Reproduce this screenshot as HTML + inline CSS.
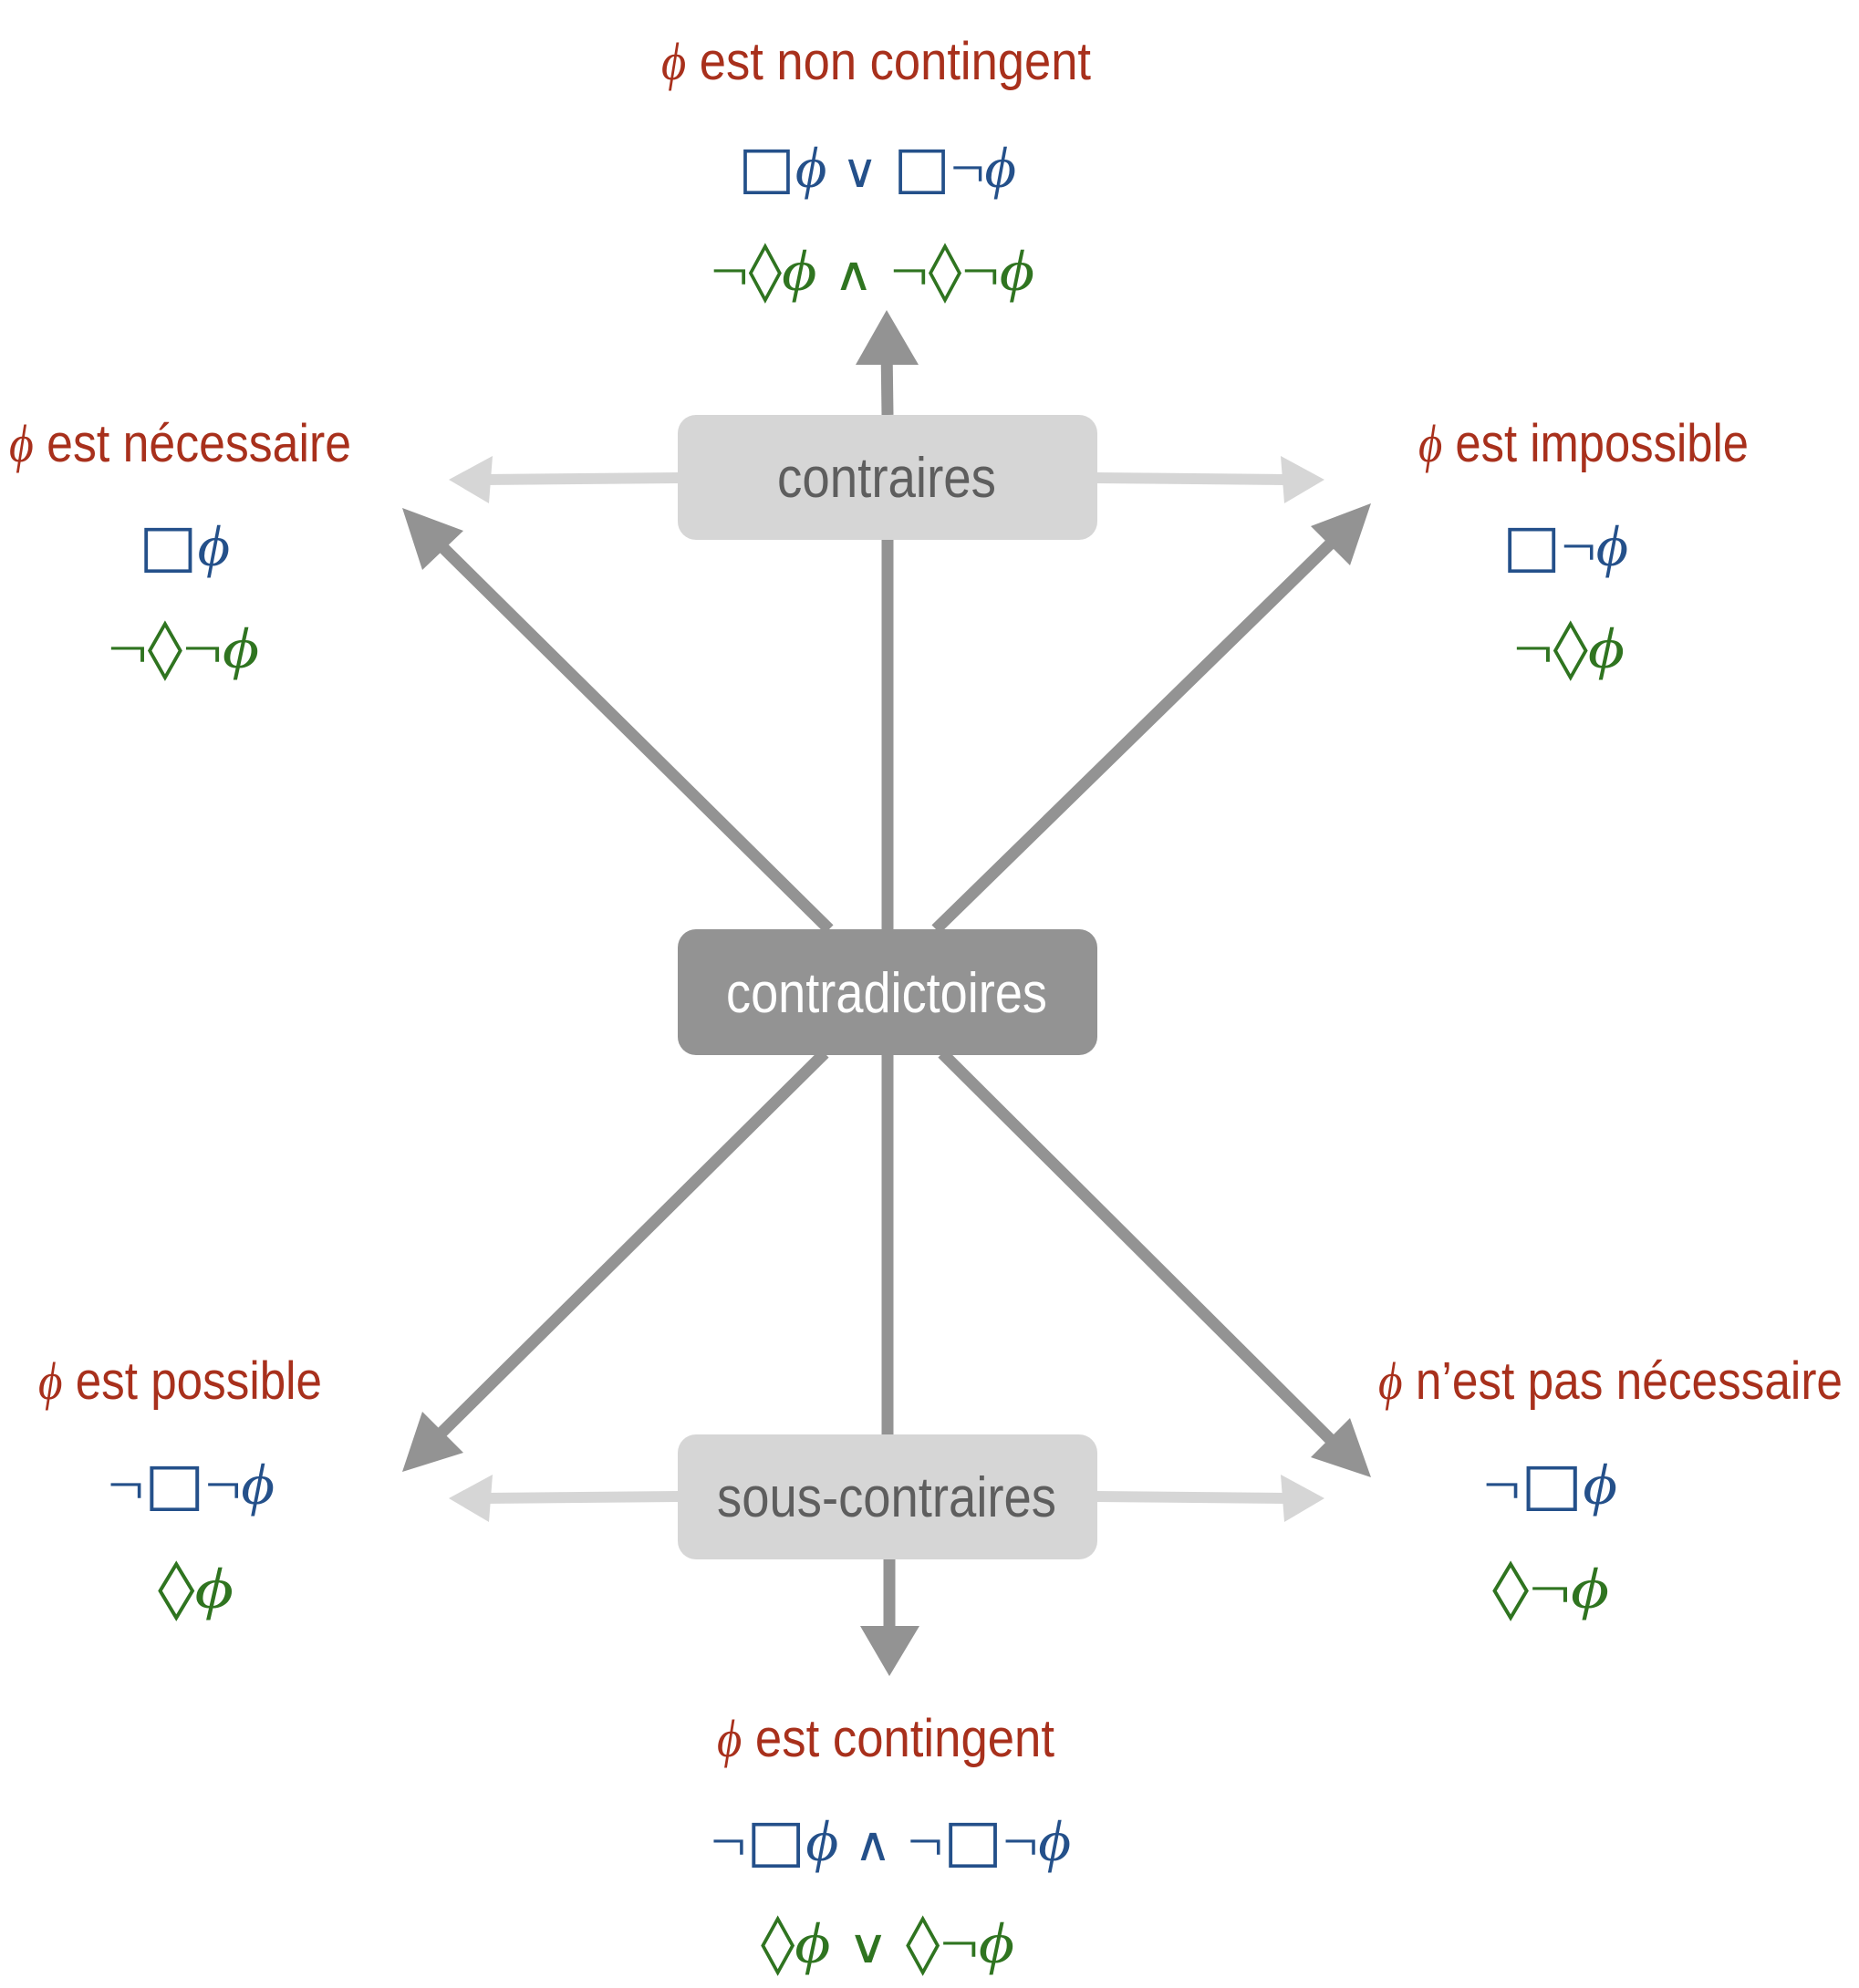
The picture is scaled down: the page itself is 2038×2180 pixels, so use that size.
<!DOCTYPE html>
<html><head><meta charset="utf-8"><style>
html,body{margin:0;padding:0;background:#fff}
svg{display:block}
.lab{font-family:"Liberation Sans Narrow","Liberation Sans",sans-serif;font-size:58px;fill:#a8301c}
.bl{fill:#24508a}
.gr{fill:#2f7420}
.f{font-family:"Liberation Serif","DejaVu Serif",serif;font-size:64px}
.s{font-family:"DejaVu Sans",sans-serif}
.o{font-family:"DejaVu Sans",sans-serif;font-weight:normal;font-size:52px}
.i{font-style:italic}
.bx{font-family:"Liberation Sans Narrow","Liberation Sans",sans-serif;font-size:62px}
</style></head><body>
<svg width="2038" height="2180" viewBox="0 0 2038 2180" xmlns="http://www.w3.org/2000/svg">
<g stroke="#d6d6d6" stroke-width="12" fill="#d6d6d6">
<line x1="745" y1="524" x2="530" y2="526"/>
<line x1="1200" y1="524" x2="1410" y2="526"/>
<line x1="745" y1="1641" x2="530" y2="1643"/>
<line x1="1200" y1="1641" x2="1410" y2="1643"/>
</g>
<g fill="#d6d6d6">
<polygon points="492,526 540,500 536,552"/>
<polygon points="1452,526 1404,500 1408,552"/>
<polygon points="492,1643 540,1617 536,1669"/>
<polygon points="1452,1643 1404,1617 1408,1669"/>
</g>
<g stroke="#939393" stroke-width="13" fill="none">
<line x1="973" y1="455" x2="972" y2="380"/>
<line x1="973" y1="590" x2="973" y2="1019"/>
<line x1="973" y1="1155" x2="973" y2="1573"/>
<line x1="975" y1="1708" x2="975" y2="1800"/>
<line x1="909" y1="1019" x2="470" y2="585"/>
<line x1="1026" y1="1019" x2="1470" y2="585"/>
<line x1="904" y1="1155" x2="470" y2="1585"/>
<line x1="1033" y1="1155" x2="1470" y2="1590"/>
</g>
<g fill="#939393">
<polygon points="972,340 1007,400 938,400"/>
<polygon points="975,1838 943,1783 1008,1783"/>
<polygon points="441,557 508,582 463,625"/>
<polygon points="1503,552 1480,620 1437,577"/>
<polygon points="441,1614 463,1548 508,1593"/>
<polygon points="1503,1620 1437,1598 1480,1555"/>
</g>
<rect x="743" y="455" width="460" height="137" rx="20" fill="#d6d6d6"/>
<rect x="743" y="1019" width="460" height="138" rx="20" fill="#939393"/>
<rect x="743" y="1573" width="460" height="137" rx="20" fill="#d6d6d6"/>
<text class="bx" x="972" y="545" text-anchor="middle" fill="#5e5e5e" textLength="240" lengthAdjust="spacingAndGlyphs">contraires</text>
<text class="bx" x="972" y="1110" text-anchor="middle" fill="#ffffff" textLength="352" lengthAdjust="spacingAndGlyphs">contradictoires</text>
<text class="bx" x="972" y="1663" text-anchor="middle" fill="#5e5e5e" textLength="372" lengthAdjust="spacingAndGlyphs">sous-contraires</text>
<text class="lab" x="725" y="87" textLength="471" lengthAdjust="spacingAndGlyphs"><tspan class="i" font-family="Liberation Serif">ϕ</tspan> est non contingent</text>
<text class="lab" x="10" y="506" textLength="375" lengthAdjust="spacingAndGlyphs"><tspan class="i" font-family="Liberation Serif">ϕ</tspan> est nécessaire</text>
<text class="lab" x="1555" y="506" textLength="362" lengthAdjust="spacingAndGlyphs"><tspan class="i" font-family="Liberation Serif">ϕ</tspan> est impossible</text>
<text class="lab" x="42" y="1534" textLength="311" lengthAdjust="spacingAndGlyphs"><tspan class="i" font-family="Liberation Serif">ϕ</tspan> est possible</text>
<text class="lab" x="1511" y="1534" textLength="509" lengthAdjust="spacingAndGlyphs"><tspan class="i" font-family="Liberation Serif">ϕ</tspan> n’est pas nécessaire</text>
<text class="lab" x="786" y="1926" textLength="370" lengthAdjust="spacingAndGlyphs"><tspan class="i" font-family="Liberation Serif">ϕ</tspan> est contingent</text>
<g class="f">
<text class="bl" x="809" y="205" textLength="305" lengthAdjust="spacingAndGlyphs"><tspan class="s">□</tspan><tspan class="i">ϕ</tspan> <tspan class="o">∨</tspan> <tspan class="s">□</tspan>¬<tspan class="i">ϕ</tspan></text>
<text class="gr" x="779" y="318" textLength="355" lengthAdjust="spacingAndGlyphs">¬<tspan class="s">◊</tspan><tspan class="i">ϕ</tspan> <tspan class="o">∧</tspan> ¬<tspan class="s">◊</tspan>¬<tspan class="i">ϕ</tspan></text>
<text class="bl" x="152" y="620" textLength="100" lengthAdjust="spacingAndGlyphs"><tspan class="s">□</tspan><tspan class="i">ϕ</tspan></text>
<text class="gr" x="118" y="732" textLength="166" lengthAdjust="spacingAndGlyphs">¬<tspan class="s">◊</tspan>¬<tspan class="i">ϕ</tspan></text>
<text class="bl" x="1647" y="620" textLength="138" lengthAdjust="spacingAndGlyphs"><tspan class="s">□</tspan>¬<tspan class="i">ϕ</tspan></text>
<text class="gr" x="1659" y="732" textLength="122" lengthAdjust="spacingAndGlyphs">¬<tspan class="s">◊</tspan><tspan class="i">ϕ</tspan></text>
<text class="bl" x="118" y="1649" textLength="183" lengthAdjust="spacingAndGlyphs">¬<tspan class="s">□</tspan>¬<tspan class="i">ϕ</tspan></text>
<text class="gr" x="173" y="1763" textLength="83" lengthAdjust="spacingAndGlyphs"><tspan class="s">◊</tspan><tspan class="i">ϕ</tspan></text>
<text class="bl" x="1626" y="1649" textLength="147" lengthAdjust="spacingAndGlyphs">¬<tspan class="s">□</tspan><tspan class="i">ϕ</tspan></text>
<text class="gr" x="1636" y="1763" textLength="128" lengthAdjust="spacingAndGlyphs"><tspan class="s">◊</tspan>¬<tspan class="i">ϕ</tspan></text>
<text class="bl" x="779" y="2040" textLength="395" lengthAdjust="spacingAndGlyphs">¬<tspan class="s">□</tspan><tspan class="i">ϕ</tspan> <tspan class="o">∧</tspan> ¬<tspan class="s">□</tspan>¬<tspan class="i">ϕ</tspan></text>
<text class="gr" x="834" y="2152" textLength="278" lengthAdjust="spacingAndGlyphs"><tspan class="s">◊</tspan><tspan class="i">ϕ</tspan> <tspan class="o">∨</tspan> <tspan class="s">◊</tspan>¬<tspan class="i">ϕ</tspan></text>
</g>
</svg>
</body></html>
